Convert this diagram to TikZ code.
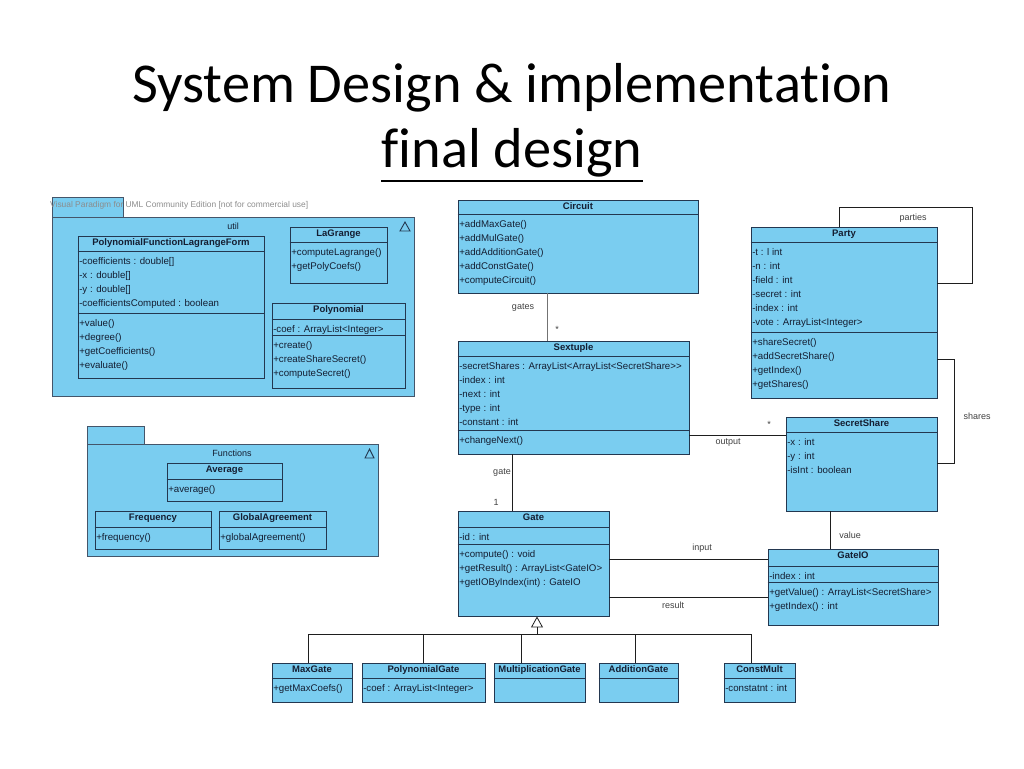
\documentclass[tikz,border=0pt]{standalone}
\usepackage{fontspec}
\setmainfont{Liberation Sans}
\newfontfamily\titlefont[Ligatures=NoCommon]{Carlito}
\usetikzlibrary{fit,arrows.meta}
\definecolor{umlfill}{RGB}{122,205,240}
\definecolor{umlline}{RGB}{35,55,80}
\definecolor{umltext}{RGB}{20,30,50}
\definecolor{linkline}{RGB}{30,30,30}

\begin{document}
\begin{tikzpicture}[x=1pt,y=-1pt,
    cls/.style={draw=umlline,fill=umlfill,inner sep=0pt,line width=0.9pt},
    pkg/.style={draw=umlline!85,fill=umlfill,inner sep=0pt,line width=0.9pt},
    ttl/.style={anchor=north,font=\fontsize{9.5}{11}\selectfont\bfseries,text=umltext,
      text height=7pt,text depth=2pt,inner ysep=3pt},
    mem/.style={anchor=north west,align=left,font=\fontsize{9.7}{14}\selectfont,
      text=umltext,inner xsep=1.5pt,inner ysep=6.3pt},
    sep/.style={draw=umlline,line width=0.9pt},
    assoc/.style={draw=linkline,line width=0.8pt},
    lbl/.style={font=\fontsize{9}{11}\selectfont,text=black!75,inner sep=1pt}]
  \useasboundingbox (0,0) rectangle (1024,768);

  % title
  \node[font=\titlefont\fontsize{56.3}{60}\selectfont,anchor=base,inner sep=0pt] (title) at (512,102) {System Design \& implementation};
  \node[font=\titlefont\fontsize{56.3}{60}\selectfont,anchor=base,inner sep=0pt] (subtitle) at (512,167) {final design};
  \draw[line width=2.5pt] (subtitle.west |- 0,181) -- (subtitle.east |- 0,181);

  % packages
  \node[pkg,fit={(52,197) (123,217)}] (util-tab) {};
  \node[pkg,fit={(52,217) (414,396)}] (util) {};
  \node[anchor=west,font=\fontsize{8.4}{10}\selectfont,text=black!45,inner sep=0pt] (watermark) at (50,205)
    {Visual Paradigm for UML Community Edition [not for commercial use]};
  \node[lbl,text=umltext] (util-name) at (233,226) {util};
  \draw[umlline,line width=0.9pt] (400,231) -- (405,222) -- (410,231) -- cycle;

  \node[pkg,fit={(87,426) (144,444)}] (func-tab) {};
  \node[pkg,fit={(87,444) (378,556)}] (func) {};
  \node[lbl,text=umltext] (func-name) at (232,453) {Functions};
  \draw[umlline,line width=0.9pt] (365,458) -- (369.5,449) -- (374,458) -- cycle;

  % util classes
  \node[cls,fit={(78,236) (264,378)}] (pflf) {};
  \node[ttl] (pflf-t) at (pflf.north) {PolynomialFunctionLagrangeForm};
  \draw[sep] (pflf.west |- 0,251) -- (pflf.east |- 0,251);
  \node[mem] (pflf-a) at (pflf.west |- 0,251) {-coefficients : double[]\\-x : double[]\\-y : double[]\\-coefficientsComputed : boolean};
  \draw[sep] (pflf.west |- 0,313) -- (pflf.east |- 0,313);
  \node[mem] (pflf-m) at (pflf.west |- 0,313) {+value()\\+degree()\\+getCoefficients()\\+evaluate()};

  \node[cls,fit={(290,227) (387,283)}] (lagrange) {};
  \node[ttl] (lagrange-t) at (lagrange.north) {LaGrange};
  \draw[sep] (lagrange.west |- 0,242) -- (lagrange.east |- 0,242);
  \node[mem] (lagrange-m) at (lagrange.west |- 0,242) {+computeLagrange()\\+getPolyCoefs()};

  \node[cls,fit={(272,303) (405,388)}] (polynomial) {};
  \node[ttl] (polynomial-t) at (polynomial.north) {Polynomial};
  \draw[sep] (polynomial.west |- 0,319) -- (polynomial.east |- 0,319);
  \node[mem] (polynomial-a) at (polynomial.west |- 0,319) {-coef : ArrayList<Integer>};
  \draw[sep] (polynomial.west |- 0,335) -- (polynomial.east |- 0,335);
  \node[mem] (polynomial-m) at (polynomial.west |- 0,335) {+create()\\+createShareSecret()\\+computeSecret()};

  % Functions classes
  \node[cls,fit={(167,463) (282,501)}] (average) {};
  \node[ttl] (average-t) at (average.north) {Average};
  \draw[sep] (average.west |- 0,479) -- (average.east |- 0,479);
  \node[mem] (average-m) at (average.west |- 0,479) {+average()};

  \node[cls,fit={(95,511) (211,549)}] (frequency) {};
  \node[ttl] (frequency-t) at (frequency.north) {Frequency};
  \draw[sep] (frequency.west |- 0,527) -- (frequency.east |- 0,527);
  \node[mem] (frequency-m) at (frequency.west |- 0,527) {+frequency()};

  \node[cls,fit={(219,511) (326,549)}] (global) {};
  \node[ttl] (global-t) at (global.north) {GlobalAgreement};
  \draw[sep] (global.west |- 0,527) -- (global.east |- 0,527);
  \node[mem] (global-m) at (global.west |- 0,527) {+globalAgreement()};

  % circuit classes
  \node[cls,fit={(458,200) (698,293)}] (circuit) {};
  \node[ttl] (circuit-t) at (circuit.north) {Circuit};
  \draw[sep] (circuit.west |- 0,214) -- (circuit.east |- 0,214);
  \node[mem] (circuit-m) at (circuit.west |- 0,214) {+addMaxGate()\\+addMulGate()\\+addAdditionGate()\\+addConstGate()\\+computeCircuit()};

  \node[cls,fit={(751,227) (937,398)}] (party) {};
  \node[ttl] (party-t) at (party.north) {Party};
  \draw[sep] (party.west |- 0,242) -- (party.east |- 0,242);
  \node[mem] (party-a) at (party.west |- 0,242) {-t : l int\\-n : int\\-field : int\\-secret : int\\-index : int\\-vote : ArrayList<Integer>};
  \draw[sep] (party.west |- 0,332) -- (party.east |- 0,332);
  \node[mem] (party-m) at (party.west |- 0,332) {+shareSecret()\\+addSecretShare()\\+getIndex()\\+getShares()};

  \node[cls,fit={(458,341) (689,454)}] (sextuple) {};
  \node[ttl] (sextuple-t) at (sextuple.north) {Sextuple};
  \draw[sep] (sextuple.west |- 0,356) -- (sextuple.east |- 0,356);
  \node[mem] (sextuple-a) at (sextuple.west |- 0,356) {-secretShares : ArrayList<ArrayList<SecretShare>{}>\\-index : int\\-next : int\\-type : int\\-constant : int};
  \draw[sep] (sextuple.west |- 0,430) -- (sextuple.east |- 0,430);
  \node[mem] (sextuple-m) at (sextuple.west |- 0,430) {+changeNext()};

  \node[cls,fit={(786,417) (937,511)}] (secretshare) {};
  \node[ttl] (secretshare-t) at (secretshare.north) {SecretShare};
  \draw[sep] (secretshare.west |- 0,432) -- (secretshare.east |- 0,432);
  \node[mem] (secretshare-a) at (secretshare.west |- 0,432) {-x : int\\-y : int\\-isInt : boolean};

  \node[cls,fit={(458,511) (609,616)}] (gate) {};
  \node[ttl] (gate-t) at (gate.north) {Gate};
  \draw[sep] (gate.west |- 0,527) -- (gate.east |- 0,527);
  \node[mem] (gate-a) at (gate.west |- 0,527) {-id : int};
  \draw[sep] (gate.west |- 0,544) -- (gate.east |- 0,544);
  \node[mem] (gate-m) at (gate.west |- 0,544) {+compute() : void\\+getResult() : ArrayList<GateIO>\\+getIOByIndex(int) : GateIO};

  \node[cls,fit={(768,549) (938,625)}] (gateio) {};
  \node[ttl] (gateio-t) at (gateio.north) {GateIO};
  \draw[sep] (gateio.west |- 0,566) -- (gateio.east |- 0,566);
  \node[mem] (gateio-a) at (gateio.west |- 0,566) {-index : int};
  \draw[sep] (gateio.west |- 0,582) -- (gateio.east |- 0,582);
  \node[mem] (gateio-m) at (gateio.west |- 0,582) {+getValue() : ArrayList<SecretShare>\\+getIndex() : int};

  % gate subclasses
  \node[cls,fit={(272,663) (352,702)}] (maxgate) {};
  \node[ttl] (maxgate-t) at (maxgate.north) {MaxGate};
  \draw[sep] (maxgate.west |- 0,678) -- (maxgate.east |- 0,678);
  \node[mem] (maxgate-m) at (maxgate.west |- 0,678) {+getMaxCoefs()};

  \node[cls,fit={(362,663) (485,702)}] (polygate) {};
  \node[ttl] (polygate-t) at (polygate.north) {PolynomialGate};
  \draw[sep] (polygate.west |- 0,678) -- (polygate.east |- 0,678);
  \node[mem] (polygate-a) at (polygate.west |- 0,678) {-coef : ArrayList<Integer>};

  \node[cls,fit={(494,663) (585,702)}] (multgate) {};
  \node[ttl] (multgate-t) at (multgate.north) {MultiplicationGate};
  \draw[sep] (multgate.west |- 0,678) -- (multgate.east |- 0,678);

  \node[cls,fit={(599,663) (678,702)}] (addgate) {};
  \node[ttl] (addgate-t) at (addgate.north) {AdditionGate};
  \draw[sep] (addgate.west |- 0,678) -- (addgate.east |- 0,678);

  \node[cls,fit={(724,663) (795,702)}] (constmult) {};
  \node[ttl] (constmult-t) at (constmult.north) {ConstMult};
  \draw[sep] (constmult.west |- 0,678) -- (constmult.east |- 0,678);
  \node[mem] (constmult-a) at (constmult.west |- 0,678) {-constatnt : int};

  % associations
  \draw[assoc,draw=black!55] (547,0 |- circuit.south) -- (547,0 |- sextuple.north);
  \node[lbl] (lbl-gates) at (523,308) {gates};
  \node[lbl] (lbl-gates-m) at (557,329) {*};
  \draw[assoc] (512,0 |- sextuple.south) -- (512,0 |- gate.north);
  \node[lbl] (lbl-gate) at (502,473) {gate};
  \node[lbl] (lbl-gate-m) at (496,502) {1};
  \draw[assoc] (sextuple.east |- 0,435) -- (secretshare.west |- 0,435);
  \node[lbl] (lbl-output) at (728,443) {output};
  \node[lbl] (lbl-output-m) at (769,424) {*};
  \draw[assoc] (party.east |- 0,359) -- (954,359) -- (954,463) -- (secretshare.east |- 0,463);
  \node[lbl] (lbl-shares) at (977,416) {shares};
  \draw[assoc] (839,0 |- party.north) -- (839,207) -- (972,207) -- (972,283) -- (party.east |- 0,283);
  \node[lbl] (lbl-parties) at (913,218) {parties};
  \draw[assoc] (830,0 |- secretshare.south) -- (830,0 |- gateio.north);
  \node[lbl] (lbl-value) at (850,535) {value};
  \draw[assoc] (gate.east |- 0,559) -- (gateio.west |- 0,559);
  \node[lbl] (lbl-input) at (702,548) {input};
  \draw[assoc] (gate.east |- 0,597) -- (gateio.west |- 0,597);
  \node[lbl] (lbl-result) at (673,605) {result};

  % generalization
  \draw[assoc,-{Triangle[open,length=11pt,width=12pt]}] (537,634) -- (537,0 |- gate.south);
  \draw[assoc] (maxgate.north -| 308,0) -- (308,634) -- (751,634) -- (constmult.north -| 751,0);
  \foreach \c/\x in {polygate/423,multgate/521,addgate/635}
    \draw[assoc] (\x,634) -- (\c.north -| \x,0);
\end{tikzpicture}
\end{document}
